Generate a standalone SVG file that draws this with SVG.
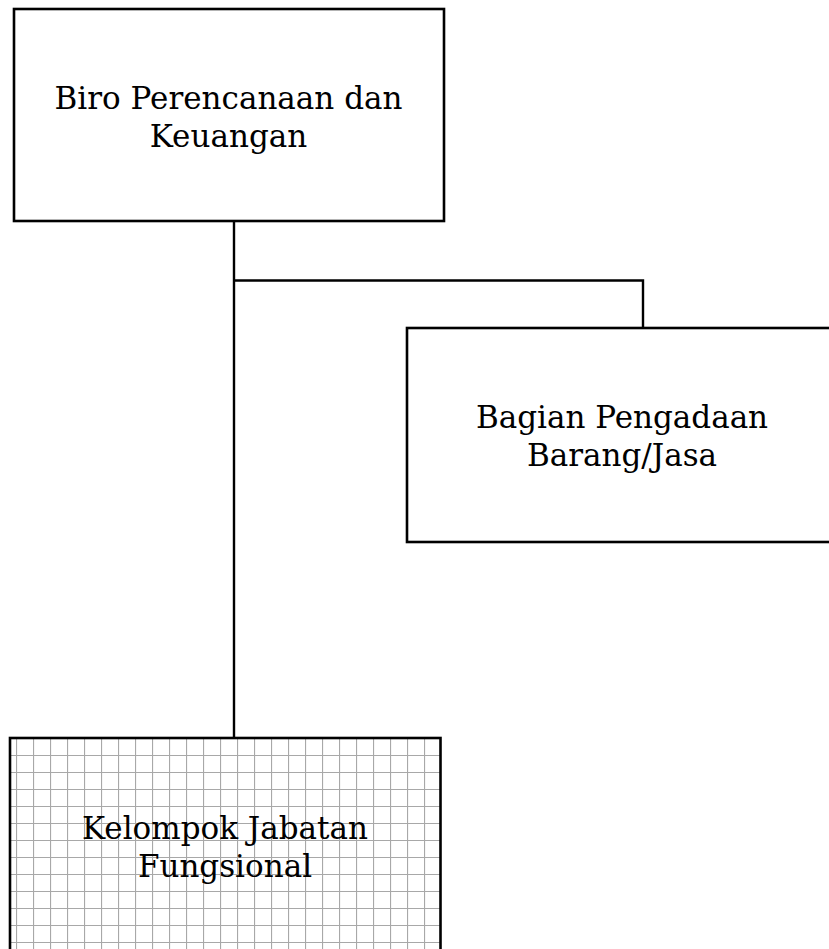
<svg xmlns="http://www.w3.org/2000/svg" width="829" height="949" viewBox="0 0 829 949">
  <style>
    .box { fill: #ffffff; stroke: #000000; stroke-width: 2.6; }
    .grid { fill: url(#gridPattern); stroke: #000000; stroke-width: 2.6; }
    .conn { fill: none; stroke: #000000; stroke-width: 2.4; }
    .label { font-family: "DejaVu Serif", "Liberation Serif", serif; font-size: 31px; fill: #000000; text-anchor: middle; }
  </style>
  <defs>
    <pattern id="gridPattern" patternUnits="userSpaceOnUse" x="16" y="755" width="17" height="17">
      <rect x="0" y="0" width="17" height="17" fill="#ffffff"/>
      <path d="M0.5 0 V17 M0 0.5 H17" stroke="#a8a8a8" stroke-width="1.2" fill="none"/>
    </pattern>
  </defs>
  <rect x="0" y="0" width="829" height="949" fill="#ffffff"/>
  <g id="connectors">
    <path class="conn" d="M234 221 V738"/>
    <path class="conn" d="M234 280.5 H643 V328"/>
  </g>
  <g id="node-biro">
    <rect class="box" x="14" y="9" width="430" height="212"/>
    <text class="label" x="228.5" y="109">Biro Perencanaan dan</text>
    <text class="label" x="228.5" y="146.5">Keuangan</text>
  </g>
  <g id="node-bagian">
    <rect class="box" x="407" y="328" width="432" height="214"/>
    <text class="label" x="622" y="428">Bagian Pengadaan</text>
    <text class="label" x="622" y="465.5">Barang/Jasa</text>
  </g>
  <g id="node-kelompok">
    <rect class="grid" x="10" y="738" width="430.5" height="230"/>
    <text class="label" x="225" y="839">Kelompok Jabatan</text>
    <text class="label" x="225" y="876.5">Fungsional</text>
  </g>
</svg>
